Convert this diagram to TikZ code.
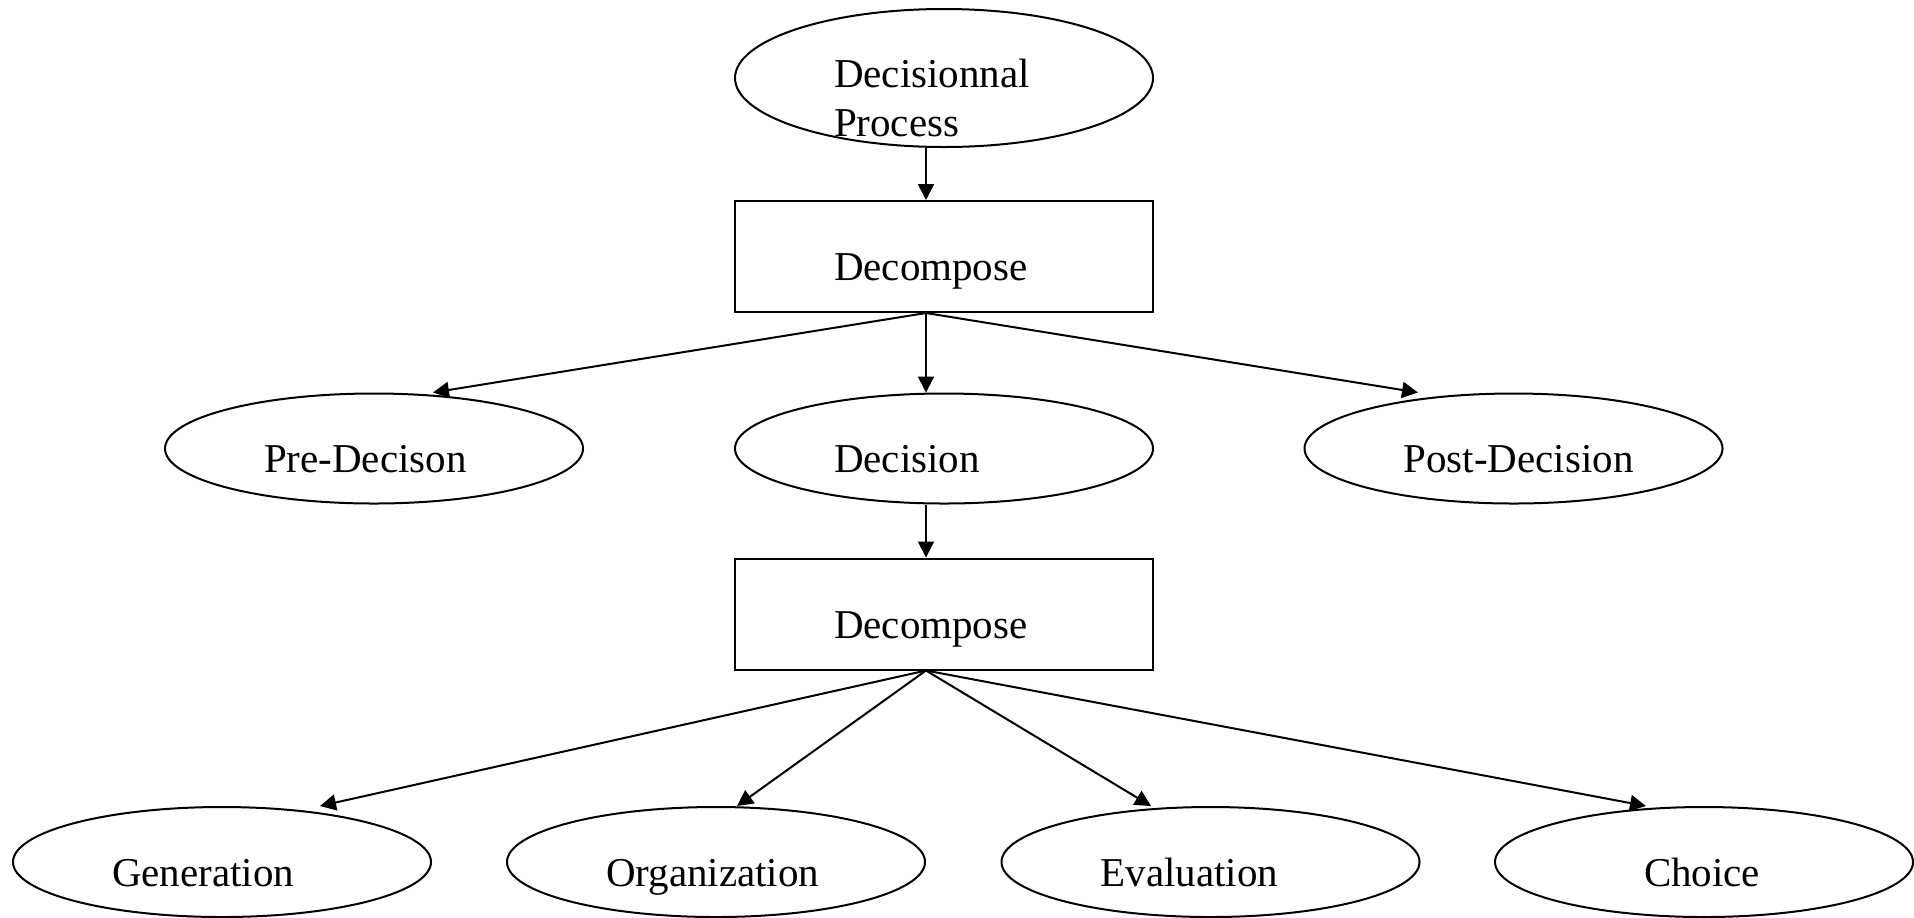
\documentclass[tikz,border=0pt]{standalone}
\usepackage{fontspec}
\setmainfont{Liberation Serif}
\usetikzlibrary{shapes.geometric,arrows.meta}

\begin{document}
\begin{tikzpicture}[x=0.5pt, y=-0.5pt, line width=1pt,
		every node/.style={font=\fontsize{20.5}{24.5}\selectfont, inner sep=0pt, text width=110pt, align=left, text height=24pt, text depth=0pt},
		oval/.style={draw, ellipse, minimum width=209pt, minimum height=55pt},
		box/.style={draw, rectangle, minimum width=209pt, minimum height=55.5pt},
		arr/.style={-{Triangle[length=8pt,width=8pt]}}]
			\useasboundingbox (0,0) rectangle (1914,917);
			% top level
			\node[oval, minimum height=69pt, text height=28.5pt, text depth=19.5pt] (proc) at (944,78) {Decisionnal\\Process};
			\node[box] (split1) at (944,256.5) {Decompose};
			% phases
			\node[oval] (pre) at (374,448.5) {Pre-Decison};
			\node[oval] (dec) at (944,448.5) {Decision};
			\node[oval] (post) at (1513.5,448.5) {\mbox{Post-Decision}};
			\node[box] (split2) at (944,614) {Decompose};
			% steps of the decision
			\node[oval] (gen) at (222,862) {Generation};
			\node[oval] (org) at (716,862) {Organization};
			\node[oval] (eva) at (1210.5,862) {Evaluation};
			\node[oval, text width=60pt] (cho) at (1704,862) {Choice};
			% connectors
			\coordinate (j1) at ([xshift=-9pt]split1.south);
			\coordinate (j2) at ([xshift=-9pt]split2.south);
			\draw[arr] ([xshift=-9pt]proc.south) -- ([xshift=-9pt]split1.north);
			\draw[arr] (j1) -- ([xshift=29.5pt]pre.north);
			\draw[arr] (j1) -- ([xshift=-9pt]dec.north);
			\draw[arr] (j1) -- ([xshift=-47.75pt]post.north);
			\draw[arr] ([xshift=-9pt]dec.south) -- ([xshift=-9pt]split2.north);
			\draw[arr] (j2) -- ([xshift=49pt]gen.north);
			\draw[arr] (j2) -- ([xshift=10.5pt]org.north);
			\draw[arr] (j2) -- ([xshift=-29.75pt]eva.north);
			\draw[arr] (j2) -- ([xshift=-29pt]cho.north);
		\end{tikzpicture}
\end{document}
